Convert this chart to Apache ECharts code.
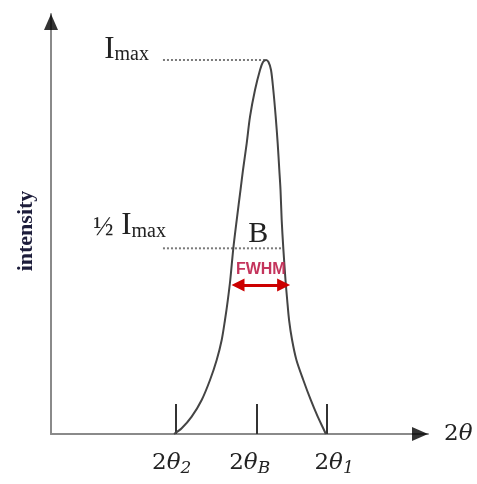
<!DOCTYPE html>
<html>
<head>
<meta charset="utf-8">
<script src="https://cdn.jsdelivr.net/npm/echarts@6/dist/echarts.min.js"></script>
<style>
html,body{margin:0;padding:0;background:#fff;}
#chart{width:477px;height:484px;}
</style>
</head>
<body>
<div id="chart"></div>
<script>
// ---- data (arbitrary units) ----
const xRange = [0, 100];
const yRange = [0, 100];
const peakX = [32.63, 34.67, 37.32, 39.97, 42.18, 43.95, 45.28, 46.15, 46.90, 47.55, 48.36, 49.26, 50.27, 50.93, 51.91, 52.79, 54.11, 55.44, 56.23, 57.03, 57.69, 58.36, 58.97, 59.60, 60.13, 60.56, 60.88, 61.19, 61.62, 62.20, 62.65, 63.15, 63.95, 65.10, 66.92, 68.90, 70.75, 72.20, 72.90];
const peakY = [0, 1.36, 4.12, 8.10, 12.86, 17.62, 22.38, 27.14, 31.90, 36.67, 44.21, 50.95, 58.10, 62.86, 69.21, 75.55, 81.90, 86.67, 88.57, 89.05, 88.57, 86.67, 81.90, 75.55, 69.21, 62.86, 58.10, 50.95, 44.21, 36.67, 31.90, 27.14, 22.38, 17.62, 12.86, 8.10, 4.12, 1.36, 0];
const tickValues = [33.0, 54.6, 73.1];
const labelValues = [32.0, 52.7, 75.1];
const tickLabels = [['2', 'θ', '2'], ['2', 'θ', 'B'], ['2', 'θ', '1']];
const iMax = 89.05;
const halfMax = 44.21;
const guideStartX = 29.7;
const halfLeftX = 48.36;
const halfRightX = 61.62;
const arrowY = 35.5;
const arrowX = [49.6, 61.7];

const chart = echarts.init(document.getElementById('chart'), null, {renderer: 'canvas'});

const serif = 'Liberation Serif';
const mathFont = 'DejaVu Serif';
const guideStyle = {color: '#7a7a7a', width: 2, type: [2, 2]};

const option = {
  backgroundColor: '#ffffff',
  animation: false,
  grid: {left: 51, right: 49, top: 14, bottom: 50, outerBoundsMode: 'none'},
  xAxis: {
    type: 'value', min: xRange[0], max: xRange[1],
    splitLine: {show: false},
    axisLine: {show: true, onZero: false, lineStyle: {color: '#8a8a8a', width: 2}},
    axisTick: {show: true, inside: true, length: 30, customValues: tickValues, lineStyle: {color: '#333', width: 2}},
    axisLabel: {
      show: true, margin: 16, customValues: labelValues,
      formatter: function (v) {
        let i = 0, best = 1e9;
        labelValues.forEach(function (t, k) { if (Math.abs(t - v) < best) { best = Math.abs(t - v); i = k; } });
        const l = tickLabels[i];
        return '{n|' + l[0] + '}{t|' + l[1] + '}{s|' + l[2] + '}';
      },
      rich: {
        n: {fontFamily: mathFont, fontSize: 23, color: '#222', lineHeight: 27, verticalAlign: 'middle'},
        t: {fontFamily: mathFont, fontSize: 23, fontStyle: 'italic', color: '#222', lineHeight: 27, verticalAlign: 'middle'},
        s: {fontFamily: mathFont, fontSize: 17, fontStyle: 'italic', color: '#222', lineHeight: 17, verticalAlign: 'bottom'}
      }
    },
    name: '{n|2}{t|θ}',
    nameLocation: 'end',
    nameGap: 16,
    nameTextStyle: {
      rich: {
        n: {fontFamily: mathFont, fontSize: 23, color: '#222'},
        t: {fontFamily: mathFont, fontSize: 23, fontStyle: 'italic', color: '#222'}
      }
    }
  },
  yAxis: {
    type: 'value', min: yRange[0], max: yRange[1],
    splitLine: {show: false},
    axisLine: {show: true, onZero: false, lineStyle: {color: '#8a8a8a', width: 2}},
    axisTick: {show: false},
    axisLabel: {show: false},
    name: 'intensity',
    nameLocation: 'middle',
    nameRotate: 90,
    nameGap: 14,
    nameTextStyle: {fontFamily: serif, fontWeight: 'bold', fontSize: 22, color: '#1c1c3a', padding: [0, 14, 0, 0]}
  },
  series: [
    {
      type: 'line', smooth: 0.3, symbol: 'none',
      lineStyle: {color: '#444', width: 2},
      data: peakX.map(function (x, i) { return [x, peakY[i]]; }),
      z: 3
    },
    {
      type: 'line', symbol: 'none', lineStyle: guideStyle, z: 2,
      data: [[guideStartX, iMax], [57.03, iMax]],
      markPoint: {
        symbol: 'circle', symbolSize: 0, silent: true,
        data: [{coord: [guideStartX, iMax], label: {show: true, position: 'left', distance: 14, offset: [0, -10],
          formatter: '{I|I}{m|max}',
          rich: {
            I: {fontFamily: serif, fontSize: 31, color: '#222', lineHeight: 30, verticalAlign: 'bottom'},
            m: {fontFamily: serif, fontSize: 20, color: '#222', lineHeight: 22, verticalAlign: 'bottom'}
          }}}]
      }
    },
    {
      type: 'line', symbol: 'none', lineStyle: guideStyle, z: 2,
      data: [[guideStartX, halfMax], [halfRightX, halfMax]],
      markPoint: {
        symbol: 'circle', symbolSize: 0, silent: true,
        data: [
          {coord: [guideStartX, halfMax], label: {show: true, position: 'left', distance: -3, offset: [0, -22],
            formatter: '{h|½}{I| I}{m|max}',
            rich: {
              h: {fontFamily: serif, fontSize: 27, color: '#222', lineHeight: 30, verticalAlign: 'bottom'},
              I: {fontFamily: serif, fontSize: 31, color: '#222', lineHeight: 30, verticalAlign: 'bottom'},
              m: {fontFamily: serif, fontSize: 20, color: '#222', lineHeight: 22, verticalAlign: 'bottom'}
            }}},
          {coord: [(halfLeftX + halfRightX) / 2, halfMax], label: {show: true, position: 'top', distance: -1,
            formatter: 'B', fontFamily: serif, fontSize: 30, color: '#222'}}
        ]
      },
      markLine: {
        silent: true,
        symbol: ['triangle', 'triangle'],
        symbolSize: [13, 13],
        lineStyle: {color: '#cc0000', width: 3, type: 'solid'},
        label: {show: true, position: 'insideMiddleTop', distance: 7, formatter: 'FWHM',
          fontFamily: 'Liberation Sans', fontSize: 16, fontWeight: 'bold', color: '#c4345c'},
        data: [[{coord: [arrowX[0], arrowY]}, {coord: [arrowX[1], arrowY]}]]
      }
    },
    {
      type: 'scatter', silent: true, clip: false, z: 5,
      symbol: 'triangle',
      data: [
        {value: [xRange[1], yRange[0]], symbolRotate: -90, symbolSize: [14, 16], symbolOffset: [-8, 0]},
        {value: [xRange[0], yRange[1]], symbolRotate: 0, symbolSize: [14, 16], symbolOffset: [0, 8]}
      ],
      itemStyle: {color: '#000'}
    }
  ]
};
chart.setOption(option);
</script>
</body>
</html>
